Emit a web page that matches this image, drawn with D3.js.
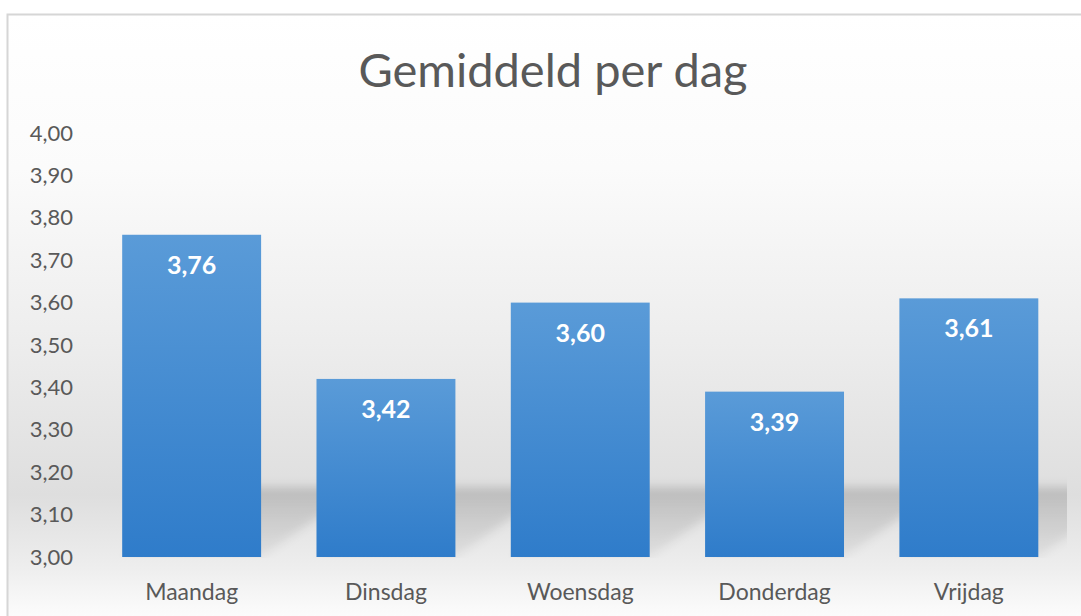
<!DOCTYPE html>
<html>
<head>
<meta charset="utf-8">
<script src="https://cdn.jsdelivr.net/npm/d3@7"></script>
<style>
  body { margin: 0; background: #fff; }
  svg { display: block; font-family: Lato, "Open Sans", sans-serif; }
</style>
</head>
<body>
<svg id="chart"></svg>
<script>
const days = ["Maandag", "Dinsdag", "Woensdag", "Donderdag", "Vrijdag"];
const averages = [3.76, 3.42, 3.60, 3.39, 3.61];
const yTicks = [3.0, 3.1, 3.2, 3.3, 3.4, 3.5, 3.6, 3.7, 3.8, 3.9, 4.0];
const title = "Gemiddeld per dag";

const w = 1081;
const h = 616;
const svg = d3.select("#chart").attr("width", w).attr("height", h);
const defs = svg.append("defs");

// chart area background: white on top, grey towards the bars' base, white again below
const bg = defs.append("linearGradient").attr("id", "bg")
  .attr("x1", 0).attr("y1", 0).attr("x2", 0).attr("y2", 1);
[[0, "#ffffff"], [0.25, "#fbfbfb"], [0.55, "#ececec"], [0.78, "#dedede"], [0.9, "#eeeeee"], [0.96, "#f9f9f9"], [1, "#ffffff"]]
  .forEach(([o, c]) => bg.append("stop").attr("offset", o).attr("stop-color", c));

const barGrad = defs.append("linearGradient").attr("id", "bar")
  .attr("x1", 0).attr("y1", 0).attr("x2", 0).attr("y2", 1);
barGrad.append("stop").attr("offset", 0).attr("stop-color", "#5a9bd8");
barGrad.append("stop").attr("offset", 1).attr("stop-color", "#2f7cca");

const shGrad = defs.append("linearGradient").attr("id", "sh")
  .attr("x1", 0).attr("y1", 0).attr("x2", 0).attr("y2", 1);
shGrad.append("stop").attr("offset", 0).attr("stop-color", "#000").attr("stop-opacity", 0.15);
shGrad.append("stop").attr("offset", 1).attr("stop-color", "#000").attr("stop-opacity", 0.05);

defs.append("filter").attr("id", "blur").attr("x", -0.5).attr("y", -0.5).attr("width", 2).attr("height", 2)
  .append("feGaussianBlur").attr("stdDeviation", 5);

defs.append("clipPath").attr("id", "plotClip")
  .append("rect").attr("x", 94).attr("y", 100).attr("width", 973).attr("height", 458);

svg.append("rect")
  .attr("x", 7.5).attr("y", 14.5).attr("width", w).attr("height", h)
  .attr("fill", "url(#bg)").attr("stroke", "#d6d6d6").attr("stroke-width", 2);

const x = d3.scaleBand().domain(days).range([94.5, 1066]).paddingInner(0.285).paddingOuter(0.1425);
const y = d3.scaleLinear().domain([3, 4]).range([557, 133]);

svg.append("text")
  .attr("x", 553).attr("y", 87)
  .attr("text-anchor", "middle")
  .attr("font-size", 47)
  .attr("fill", "#595959")
  .text(title);

// y axis labels
const yAxis = d3.axisLeft(y).tickValues(yTicks).tickSize(0).tickPadding(0)
  .tickFormat(d => d3.format(".2f")(d).replace(".", ","));
const gy = svg.append("g").attr("transform", "translate(73,0)").call(yAxis);
gy.select(".domain").remove();
gy.selectAll("text").attr("font-size", 22).attr("fill", "#595959")
  .attr("font-family", "Lato, sans-serif");

// shadows behind bars
const dx = 100, dy = 70;
svg.append("g").attr("clip-path", "url(#plotClip)")
  .selectAll("path").data(days).join("path")
  .attr("d", d => {
    const x0 = x(d), x1 = x(d) + x.bandwidth(), b = y(3);
    return `M${x0},${b}L${x1},${b}L${x1 + dx},${b - dy}L${x0 + dx},${b - dy}Z`;
  })
  .attr("fill", "url(#sh)")
  .attr("filter", "url(#blur)");

svg.append("g").selectAll("rect").data(averages).join("rect")
  .attr("x", (d, i) => x(days[i]))
  .attr("y", d => y(d))
  .attr("width", x.bandwidth())
  .attr("height", d => y(3) - y(d))
  .attr("fill", "url(#bar)");

svg.append("g").selectAll("text").data(averages).join("text")
  .attr("x", (d, i) => x(days[i]) + x.bandwidth() / 2)
  .attr("y", d => y(d) + 39)
  .attr("text-anchor", "middle")
  .attr("font-size", 25)
  .attr("font-weight", "bold")
  .attr("fill", "#ffffff")
  .text(d => d3.format(".2f")(d).replace(".", ","));

// x axis labels
const xAxis = d3.axisBottom(x).tickSize(0).tickPadding(0);
const gx = svg.append("g").attr("transform", "translate(0,600)").call(xAxis);
gx.select(".domain").remove();
gx.selectAll("text").attr("font-size", 23).attr("fill", "#595959")
  .attr("font-family", "Lato, sans-serif").attr("dy", 0);
</script>
</body>
</html>
